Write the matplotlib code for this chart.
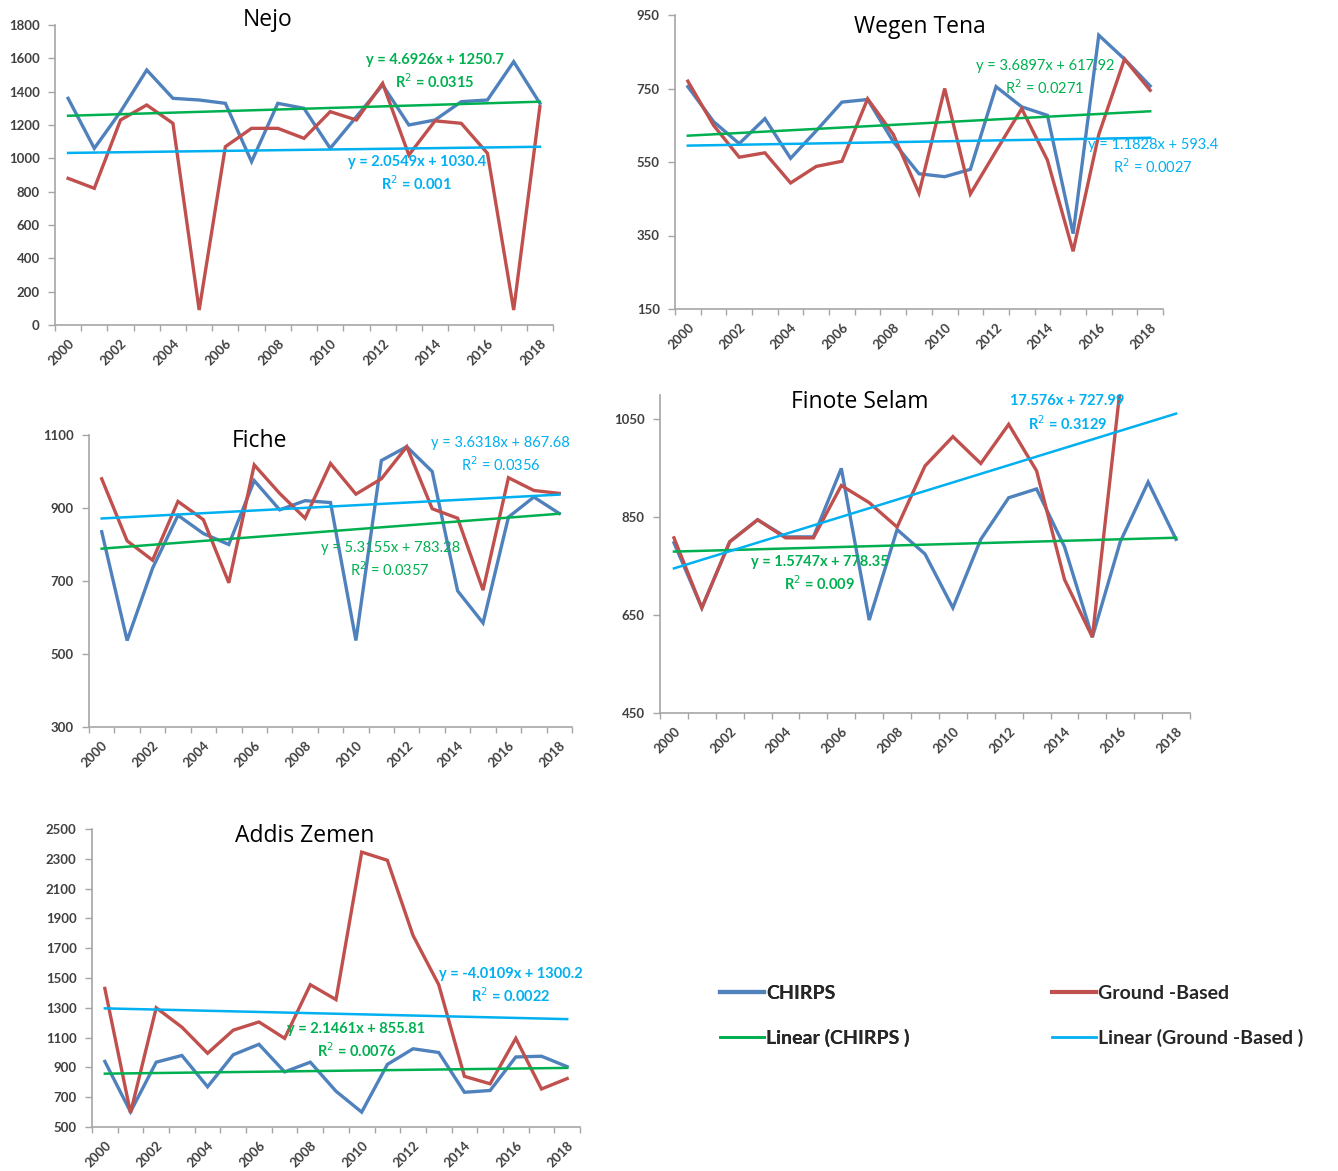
import numpy as np
import matplotlib
matplotlib.use("Agg")
import matplotlib.pyplot as plt
from matplotlib.lines import Line2D

plt.rcParams["font.family"] = ["Lato", "DejaVu Sans"]

years = list(range(2000, 2019))

# Annual rainfall (mm), CHIRPS vs ground-based gauges
nejo_chirps = [1360, 1060, 1280, 1530, 1360, 1350, 1330, 980, 1330, 1300,
               1060, 1250, 1440, 1200, 1230, 1340, 1350, 1580, 1330]
nejo_ground = [880, 820, 1230, 1320, 1210, 90, 1070, 1180, 1180, 1120,
               1280, 1230, 1450, 1020, 1225, 1210, 1030, 90, 1310]

wegen_chirps = [755, 660, 600, 668, 560, 635, 713, 720, 605, 518,
                510, 530, 755, 700, 677, 355, 895, 830, 757]
wegen_ground = [770, 650, 563, 575, 493, 538, 552, 722, 625, 465,
                750, 463, 580, 695, 555, 307, 625, 830, 745]

fiche_chirps = [835, 537, 735, 880, 830, 800, 975, 895, 920, 915,
                537, 1030, 1068, 1000, 673, 585, 875, 930, 885]
fiche_ground = [980, 810, 757, 918, 868, 695, 1018, 940, 872, 1022,
                938, 980, 1068, 898, 872, 675, 983, 948, 940]

finote_chirps = [798, 665, 800, 845, 810, 810, 950, 640, 825, 775,
                 665, 805, 890, 908, 790, 605, 800, 922, 805]
finote_ground = [808, 665, 800, 845, 808, 808, 915, 880, 830, 955,
                 1015, 960, 1040, 945, 723, 605, 1115, 1210, 1245]

addis_chirps = [940, 602, 935, 980, 770, 985, 1055, 870, 935, 740,
                600, 920, 1025, 1000, 733, 745, 970, 975, 905]
addis_ground = [1430, 595, 1300, 1170, 995, 1150, 1205, 1095, 1455, 1355,
                2345, 2290, 1785, 1455, 840, 790, 1095, 755, 825]

# Excel linear trendlines (x = 1..19): (slope, intercept, R²)
nejo_fit = {"chirps": (4.6926, 1250.7, 0.0315), "ground": (2.0549, 1030.4, 0.001)}
wegen_fit = {"chirps": (3.6897, 617.92, 0.0271), "ground": (1.1828, 593.4, 0.0027)}
fiche_fit = {"chirps": (5.3155, 783.28, 0.0357), "ground": (3.6318, 867.68, 0.0356)}
finote_fit = {"chirps": (1.5747, 778.35, 0.009), "ground": (17.576, 727.99, 0.3129)}
addis_fit = {"chirps": (2.1461, 855.81, 0.0076), "ground": (-4.0109, 1300.2, 0.0022)}

C_CHIRPS = "#4F81BD"
C_GROUND = "#C0504D"
C_LIN_CHIRPS = "#00B050"
C_LIN_GROUND = "#00B0F0"
AXIS_GREY = "#A6A6A6"
TICK_TEXT = "#404040"

W, H = 1338, 1171
fig = plt.figure(figsize=(W / 100, H / 100), dpi=100)


def px_axes(left, top, right, bottom):
    return fig.add_axes([left / W, 1 - bottom / H, (right - left) / W, (bottom - top) / H])


def eq_text(fit, with_y=True):
    m, b, r2 = fit
    head = "y = " if with_y else ""
    sign = "-" if m < 0 else ""
    return f"{head}{sign}{abs(m)}x + {b}\nR$^2$ = {r2}"


def draw_panel(box, title, title_pos, chirps, ground, fits, ylim, yticks,
               labels, bold, ground_has_y=True):
    ax = px_axes(*box)
    x = np.arange(len(years))
    ax.plot(x, chirps, color=C_CHIRPS, lw=2.4, solid_joinstyle="miter")
    ax.plot(x, ground, color=C_GROUND, lw=2.4, solid_joinstyle="miter")
    xn = x + 1
    for key, col in (("chirps", C_LIN_CHIRPS), ("ground", C_LIN_GROUND)):
        m, b, _ = fits[key]
        ax.plot(x, m * xn + b, color=col, lw=1.8)

    ax.set_xlim(-0.5, len(years) - 0.5)
    ax.set_ylim(*ylim)
    ax.set_yticks(yticks)
    ax.set_yticklabels([str(v) for v in yticks])
    ax.set_xticks(np.arange(-0.5, len(years), 1.0))
    ax.set_xticklabels([])
    ax.set_xticks(x[::2], minor=True)
    ax.set_xticklabels([str(y) for y in years[::2]], minor=True, rotation=45,
                       ha="right", va="top", rotation_mode="anchor")
    ax.tick_params(axis="x", which="minor", length=0, pad=9, labelsize=9.5,
                   labelcolor=TICK_TEXT)
    ax.tick_params(axis="x", which="major", length=4, color=AXIS_GREY, width=1)
    ax.tick_params(axis="y", length=5, color=AXIS_GREY, width=1, pad=6,
                   labelsize=9.5, labelcolor=TICK_TEXT)
    for lbl in ax.get_xticklabels(minor=True) + ax.get_yticklabels():
        lbl.set_fontweight("bold")
    for s in ("top", "right"):
        ax.spines[s].set_visible(False)
    for s in ("left", "bottom"):
        ax.spines[s].set_color(AXIS_GREY)
        ax.spines[s].set_linewidth(1.2)

    ax.text(title_pos[0], title_pos[1], title, transform=ax.transAxes,
            ha="center", va="center", fontsize=16.5, color="black",
            family=["Open Sans", "DejaVu Sans"])

    weight = "bold" if bold else "normal"
    for key, col in (("chirps", C_LIN_CHIRPS), ("ground", C_LIN_GROUND)):
        lx, ly = labels[key]
        txt = eq_text(fits[key], with_y=(key == "chirps" or ground_has_y))
        ax.text(lx, ly, txt, ha="center", va="center", multialignment="center",
                fontsize=10.5, color=col, fontweight=weight, linespacing=1.35)
    return ax


draw_panel((55, 25, 553, 325), "Nejo", (0.426, 1.017),
           nejo_chirps, nejo_ground, nejo_fit, (0, 1800),
           list(range(0, 1801, 200)),
           {"chirps": (14.0, 1518), "ground": (13.3, 905)}, True)
draw_panel((675, 15, 1163, 309), "Wegen Tena", (0.502, 0.959),
           wegen_chirps, wegen_ground, wegen_fit, (150, 950),
           [150, 350, 550, 750, 950],
           {"chirps": (13.9, 778), "ground": (18.1, 564)}, False)
draw_panel((89, 435, 572, 727), "Fiche", (0.354, 0.979),
           fiche_chirps, fiche_ground, fiche_fit, (300, 1100),
           [300, 500, 700, 900, 1100],
           {"chirps": (11.35, 757), "ground": (15.7, 1045)}, False)
draw_panel((660, 395, 1190, 713), "Finote Selam", (0.377, 0.978),
           finote_chirps, finote_ground, finote_fit, (450, 1100),
           [450, 650, 850, 1050],
           {"chirps": (5.23, 734), "ground": (14.1, 1062)}, True,
           ground_has_y=False)
draw_panel((92, 829, 580, 1127), "Addis Zemen", (0.436, 0.977),
           addis_chirps, addis_ground, addis_fit, (500, 2500),
           list(range(500, 2501, 200)),
           {"chirps": (9.8, 1077), "ground": (15.8, 1446)}, True)

# legend, two columns placed side by side
legend_font = {"size": 14, "weight": "bold", "family": ["Lato", "DejaVu Sans"]}
col1 = fig.legend([Line2D([], [], color=C_CHIRPS, lw=3),
                   Line2D([], [], color=C_LIN_CHIRPS, lw=2)],
                  ["CHIRPS", "Linear (CHIRPS )"],
                  loc="center left", bbox_to_anchor=(702 / W, 1 - 1016 / H),
                  frameon=False, handlelength=2.3, handletextpad=0.1,
                  labelspacing=1.4, prop=legend_font, labelcolor="#262626")
fig.add_artist(col1)
fig.legend([Line2D([], [], color=C_GROUND, lw=3),
            Line2D([], [], color=C_LIN_GROUND, lw=2)],
           ["Ground -Based", "Linear (Ground -Based )"],
           loc="center left", bbox_to_anchor=(1034 / W, 1 - 1016 / H),
           frameon=False, handlelength=2.3, handletextpad=0.1,
           labelspacing=1.4, prop=legend_font, labelcolor="#262626")

fig.savefig("out.png", dpi=100, facecolor="white")
